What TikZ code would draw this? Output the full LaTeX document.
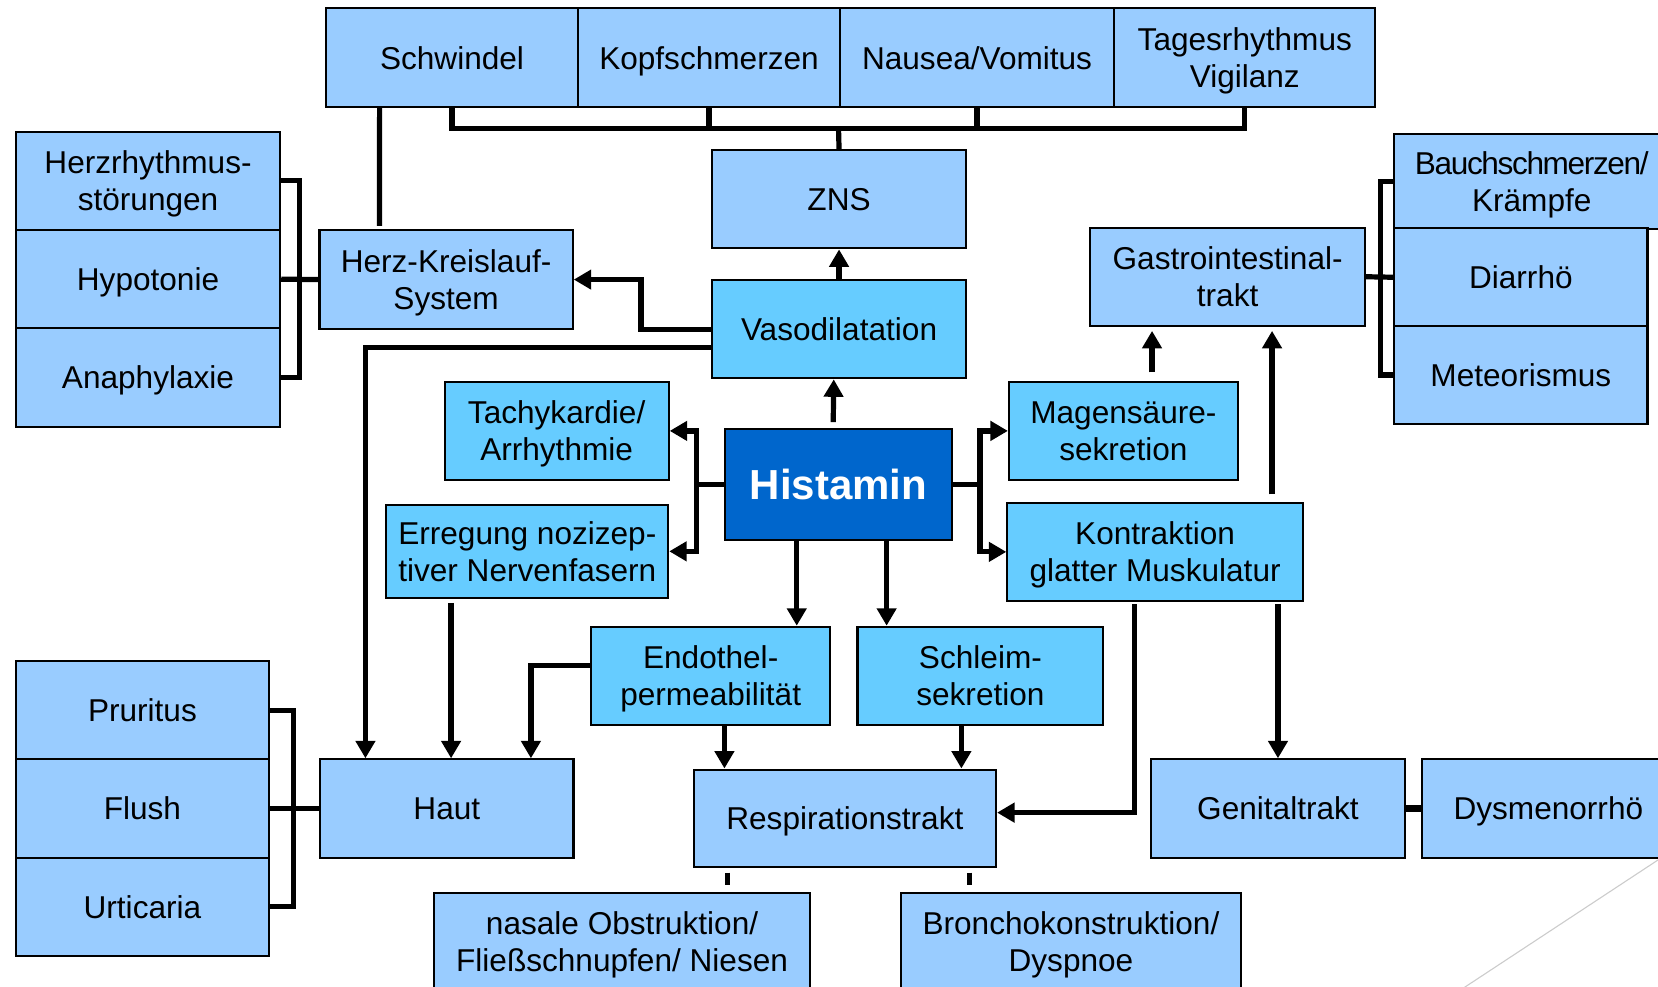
\documentclass[tikz,border=0pt]{standalone}
\usepackage{fontspec}
\setmainfont{Liberation Sans}
\usetikzlibrary{arrows.meta}

\definecolor{hellblau}{HTML}{99CCFF}
\definecolor{mittelblau}{HTML}{66CCFF}
\definecolor{dunkelblau}{HTML}{0066CC}

\tikzset{
  kasten/.style={draw=black, line width=1.1pt, minimum height=18.6mm, inner sep=0pt,
    align=center, font=\fontsize{17}{20}\selectfont},
  aussen/.style={kasten, fill=hellblau},
  innen/.style={kasten, fill=mittelblau},
  einzeilig/.style={text depth=0pt},
  verb/.style={line width=2.8pt},
  pfeil/.style={verb, -{Triangle[length=3.3mm,width=3.6mm]}},
}

\begin{document}
\begin{tikzpicture}[x=0.2mm,y=-0.2mm]

\clip (0,0) rectangle (1568,933);

% ZNS-Symptome oben

\node[aussen, einzeilig, minimum width=47.8mm] (schwindel) at (427.5,54.5) {Schwindel};
\node[aussen, einzeilig, minimum width=49.4mm] (kopf) at (670.5,54.5) {Kopfschmerzen};
\node[aussen, einzeilig, minimum width=52mm] (nausea) at (924,54.5) {Nausea/Vomitus};
\node[aussen, minimum width=49.3mm] (tages) at (1177.2,54.5) {Tagesrhythmus\\\smash{Vigilanz}};

% Herz-Kreislauf links

\node[aussen, minimum width=50mm] (herzr) at (140,171) {Herzrhythmus-\\\smash{störungen}};
\node[aussen, einzeilig, minimum width=50mm] (hypo) at (140,264) {Hypotonie};
\node[aussen, einzeilig, minimum width=50mm] (ana) at (140,357) {Anaphylaxie};
\node[aussen, minimum width=47.9mm, minimum height=18.7mm] (herz) at (421.9,264.4) {Herz-Kreislauf-\\\smash{System}};

% Mitte

\node[aussen, einzeilig, minimum width=48.1mm] (zns) at (793.5,188.4) {ZNS};
\node[innen, einzeilig, minimum width=48.1mm] (vaso) at (793.5,311.3) {Vasodilatation};
\node[innen, minimum width=42.4mm] (tachy) at (526.4,407.5) {Tachykardie/\\\smash{Arrhythmie}};
\node[kasten, einzeilig, fill=dunkelblau, text=white, minimum width=42.9mm, minimum height=21mm,
  font=\fontsize{22.6}{26}\selectfont\bfseries] (hist) at (793,458.2) {Histamin};
\node[innen, minimum width=53.3mm, minimum height=17.5mm] (erreg) at (498.7,521.4) {Erregung nozizep-\\\smash{tiver Nervenfasern}};
\node[innen, minimum width=43.3mm] (magen) at (1062.4,407.5) {Magensäure-\\\smash{sekretion}};
\node[innen, minimum width=55.9mm] (kontr) at (1092.4,521.9) {Kontraktion\\\smash{glatter Muskulatur}};
\node[innen, minimum width=45.2mm] (endo) at (672.1,639.2) {Endothel-\\\smash{permeabilität}};
\node[innen, minimum width=46.5mm] (schleim) at (927.2,639.2) {Schleim-\\\smash{sekretion}};

% Gastrointestinaltrakt rechts

\node[aussen, minimum width=51.9mm, minimum height=18.5mm] (gastro) at (1161,261.7) {Gastrointestinal-\\\smash{trakt}};
\node[aussen, minimum width=52mm, minimum height=17.9mm] (bauch) at (1448.6,171.4)
  {{\addfontfeature{LetterSpace=-4.3}Bauchschmerzen/}\\\smash{Krämpfe}};
\node[aussen, einzeilig, minimum width=47.9mm, minimum height=18.5mm] (diarr) at (1438.3,262.2) {Diarrhö};
\node[aussen, einzeilig, minimum width=47.9mm, minimum height=18.5mm] (meteo) at (1438.3,354.7) {Meteorismus};

% Haut unten links

\node[aussen, einzeilig, minimum width=47.9mm] (prur) at (134.7,671.6) {Pruritus};
\node[aussen, einzeilig, minimum width=47.9mm] (flush) at (134.7,764.6) {Flush};
\node[aussen, einzeilig, minimum width=47.9mm] (urti) at (134.7,857.6) {Urticaria};
\node[aussen, einzeilig, minimum width=47.9mm] (haut) at (422.6,764.6) {Haut};

% Respirations- und Genitaltrakt

\node[aussen, einzeilig, minimum width=57.2mm, minimum height=18.5mm] (resp) at (799,774) {Respirationstrakt};
\node[aussen, minimum width=71.1mm] (nasal) at (588.3,890.7) {nasale Obstruktion/\\\smash{Fließschnupfen/ Niesen}};
\node[aussen, minimum width=64.3mm] (bronch) at (1012.8,890.7) {Bronchokonstruktion/\\\smash{Dyspnoe}};
\node[aussen, einzeilig, minimum width=47.9mm] (genit) at (1208.6,764.6) {Genitaltrakt};
\node[aussen, einzeilig, minimum width=47.7mm] (dysm) at (1464.3,764.6) {Dysmenorrhö};

% Verbindungen ZNS

\coordinate (znsbar) at (793,121.4);
\draw[verb] (schwindel.south) |- (znsbar) -| (tages.south);
\draw[verb] (kopf.south) -- (kopf.south |- znsbar);
\draw[verb] (nausea.south) -- (nausea.south |- znsbar);
\draw[verb] (znsbar) -- (zns.north);
\draw[verb] ([xshift=-13.7mm]schwindel.south) -- ([xshift=-12.6mm,yshift=0.6mm]herz.north);

% Verbindungen Herz-Kreislauf

\coordinate (lbr) at (283,264);
\draw[verb] (herzr.east) -| (lbr) |- (ana.east);
\draw[verb] (hypo.east) -- (herz.west);

% Vasodilatation

\draw[pfeil] (vaso.north) -- (zns.south);
\draw[pfeil] (vaso.west) -- ++(-66,0) |- (herz.east);
\draw[pfeil] ([yshift=-3.5mm]vaso.west) -| ([xshift=-15.4mm]haut.north);

% Histamin

\draw[pfeil] ([xshift=-1mm,yshift=1.1mm]hist.north) -- ([xshift=-1mm]vaso.south);
\coordinate (lstamm) at (659,458.2);
\coordinate (rstamm) at (926.8,458.2);
\draw[verb] (hist.west) -- (lstamm);
\draw[pfeil] (lstamm) |- (tachy.east);
\draw[pfeil] (lstamm) |- (erreg.east);
\draw[verb] (hist.east) -- (rstamm);
\draw[pfeil] (rstamm) |- (magen.west);
\draw[pfeil] (rstamm) |- (kontr.west);
\draw[pfeil] ([xshift=-7.9mm]hist.south) -- ([xshift=-7.9mm]hist.south |- endo.north);
\draw[pfeil] ([xshift=9.1mm]hist.south) -- ([xshift=9.1mm]hist.south |- schleim.north);

% Haut

\draw[pfeil] ([yshift=1.9mm]endo.west) -| ([xshift=15.9mm]haut.north);
\draw[pfeil] ([xshift=0.8mm,yshift=-0.8mm]haut.north |- erreg.south) -- ([xshift=0.8mm]haut.north);
\coordinate (ubr) at (277.8,764.6);
\draw[verb] (prur.east) -| (ubr) |- (urti.east);
\draw[verb] (flush.east) -- (haut.west);

% Respirationstrakt

\draw[pfeil] ([xshift=2.6mm]endo.south) -- ([xshift=2.6mm]endo.south |- resp.north);
\draw[pfeil] ([xshift=-3.6mm]schleim.south) -- ([xshift=-3.6mm]schleim.south |- resp.north);
\draw[pfeil] ([xshift=-3.9mm,yshift=-0.4mm]kontr.south) |- ([yshift=1.1mm]resp.east);
\draw[verb, shorten <=0.8mm, shorten >=1.3mm] ([xshift=-22.2mm]resp.south) -- ([xshift=-22.2mm]resp.south |- nasal.north);
\draw[verb, shorten <=0.8mm, shorten >=1.3mm] ([xshift=23.5mm]resp.south) -- ([xshift=23.5mm]resp.south |- bronch.north);

% Genitaltrakt

\draw[pfeil] ([yshift=-0.4mm]genit.north |- kontr.south) -- (genit.north);
\draw[verb, line width=3.6pt] (genit.east) -- (dysm.west);

% Gastrointestinaltrakt

\draw[pfeil, shorten >=0.8mm] ([xshift=8.4mm,yshift=1.4mm]gastro.south |- kontr.north) -- ([xshift=8.4mm]gastro.south);
\draw[pfeil, shorten >=0.8mm] ([xshift=-14.3mm,yshift=1.6mm]gastro.south |- magen.north) -- ([xshift=-14.3mm]gastro.south);
\coordinate (rbr) at (1305.6,262);
\draw[verb] (bauch.west) -| (rbr) |- (meteo.west);
\draw[verb] (gastro.east) -- (diarr.west);

% Folienrand

\draw[gray!40, line width=0.6pt] (1590,798.8) -- (1370,943.6);

\end{tikzpicture}
\end{document}
